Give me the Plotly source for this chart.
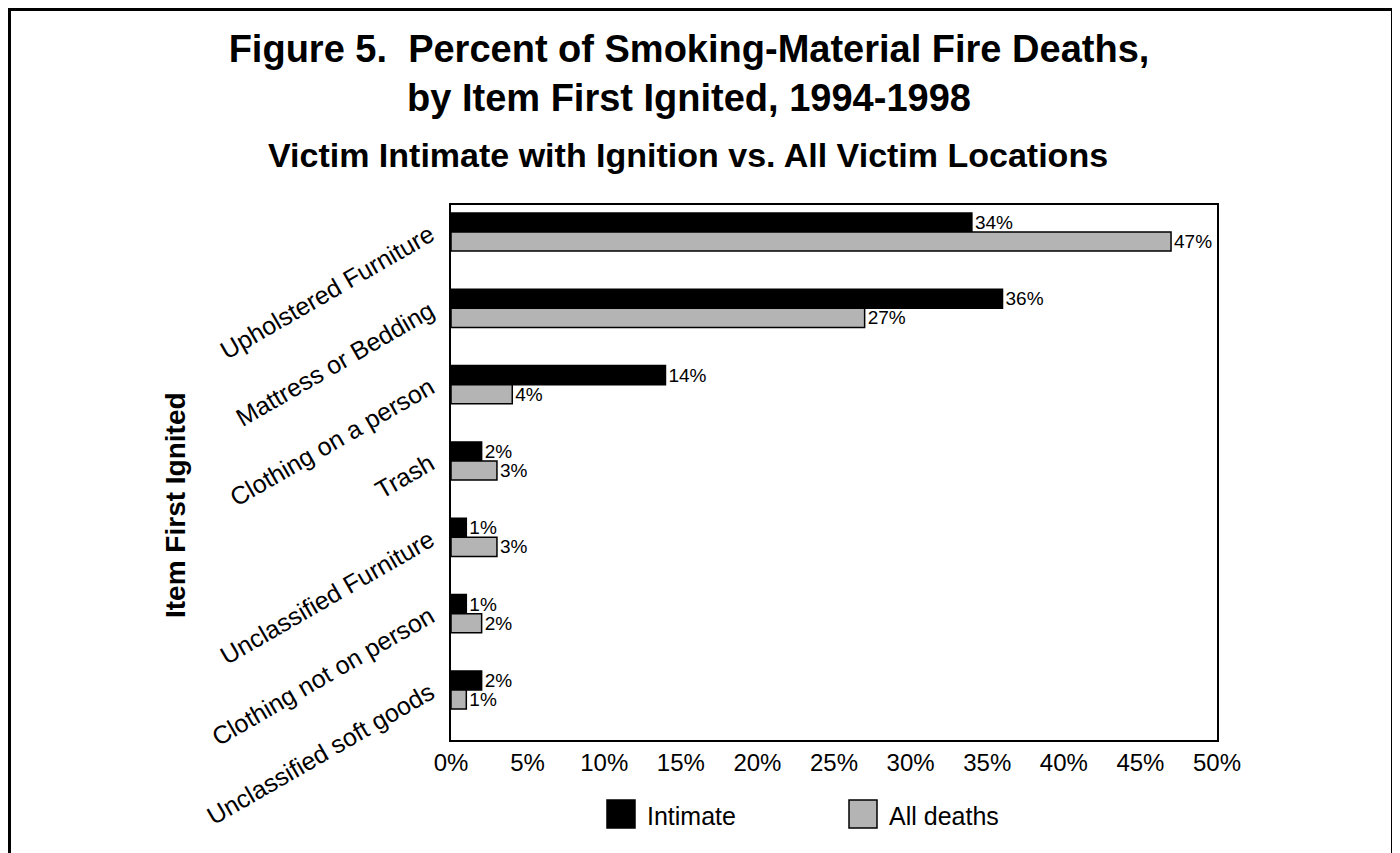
import plotly.graph_objects as go

categories = ["Upholstered Furniture", "Mattress or Bedding", "Clothing on a person", "Trash",
              "Unclassified Furniture", "Clothing not on person", "Unclassified soft goods"]
intimate = [34, 36, 14, 2, 1, 1, 2]
all_deaths = [47, 27, 4, 3, 3, 2, 1]
x_ticks = [0, 5, 10, 15, 20, 25, 30, 35, 40, 45, 50]
x_tick_labels = [f"{v}%" for v in x_ticks]
series_names = ["Intimate", "All deaths"]
series_colors = ["#000000", "#b4b4b4"]

FONT = "Liberation Sans, Arial, Helvetica, sans-serif"
OFF = 8  # page body margin
W, H = 1400 - OFF, 853 - OFF
# plot area in page pixels
PL, PR, PT, PB = 451, 1217, 205, 740
L, R, T, B = PL - OFF, PR - OFF, PT - OFF, PB - OFF


def px(x):  # page pixel -> paper
    return (x - PL) / (PR - PL)


def py(y):
    return (PB - y) / (PB - PT)


fig = go.Figure()
for name, vals, col in zip(series_names, [intimate, all_deaths], series_colors):
    fig.add_trace(go.Bar(
        y=categories, x=vals, orientation="h", name=name,
        marker=dict(color=col, line=dict(color="#000000", width=1.5)),
        text=[f"{v}%" for v in vals], textposition="outside",
        textfont=dict(family=FONT, size=19, color="#000000"),
        cliponaxis=False, constraintext="none", showlegend=False,
    ))

shapes = [
    # outer frame
    dict(type="rect", xref="paper", yref="paper", x0=px(OFF + 1.5), x1=px(1392.5),
         y0=py(900), y1=py(OFF + 1.5), line=dict(color="#000000", width=3)),
]
annotations = [
    dict(text="Victim Intimate with Ignition vs. All Victim Locations", xref="paper", yref="paper",
         x=px(688), y=py(155), xanchor="center", yanchor="middle", showarrow=False,
         font=dict(family=FONT, size=34, color="#000000", weight="bold")),
    dict(text="Item First Ignited", xref="paper", yref="paper", x=px(175), y=py(505),
         xanchor="center", yanchor="middle", textangle=-90, showarrow=False,
         font=dict(family=FONT, size=28, color="#000000", weight="bold")),
]
# manual legend
legend_sq_x = [607, 849]
for name, col, sx in zip(series_names, series_colors, legend_sq_x):
    shapes.append(dict(type="rect", xref="paper", yref="paper", x0=px(sx), x1=px(sx + 28),
                       y0=py(828), y1=py(800), fillcolor=col, line=dict(color="#000000", width=1.5)))
    annotations.append(dict(text=name, xref="paper", yref="paper", x=px(sx + 38), y=py(816),
                            xanchor="left", yanchor="middle", showarrow=False,
                            font=dict(family=FONT, size=25, color="#000000")))

fig.update_layout(
    width=W, height=H,
    margin=dict(l=L, r=W - R, t=T, b=H - B, pad=0),
    paper_bgcolor="#ffffff", plot_bgcolor="#ffffff",
    barmode="group", bargap=0.5, bargroupgap=0,
    title=dict(text="Figure 5.\u00a0\u00a0Percent of Smoking-Material Fire Deaths,<br>by Item First Ignited, 1994-1998",
               x=(689 - OFF) / W, xanchor="center", xref="container", yref="container",
               y=1 - 54 / H, yanchor="top",
               font=dict(family=FONT, size=38, color="#000000", weight="bold")),
    xaxis=dict(range=[0, 50], tickvals=x_ticks, ticktext=x_tick_labels, showgrid=False,
               zeroline=False, showline=True, linecolor="#000000", linewidth=2, mirror=True,
               ticks="", tickfont=dict(family=FONT, size=24, color="#000000")),
    yaxis=dict(categoryorder="array", categoryarray=categories, range=[6.655, -0.354],
               showgrid=False, zeroline=False, showline=True, linecolor="#000000", linewidth=2,
               mirror=True, ticks="", tickangle=-30, ticklabelstandoff=14,
               tickfont=dict(family=FONT, size=25, color="#000000")),
    shapes=shapes, annotations=annotations,
)
fig.write_html("out.html")
